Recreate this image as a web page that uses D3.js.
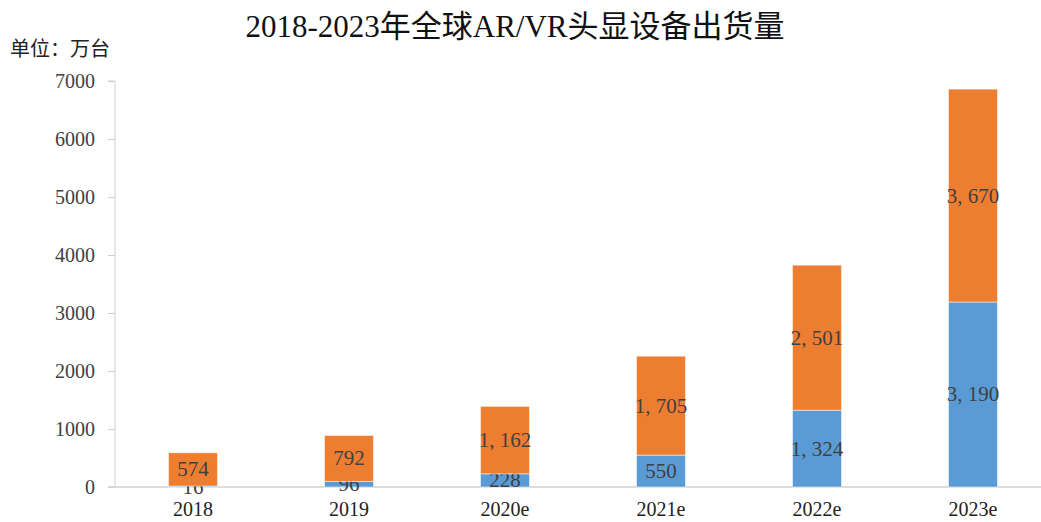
<!DOCTYPE html>
<html>
<head>
<meta charset="utf-8">
<script src="https://cdn.jsdelivr.net/npm/d3@7"></script>
<style>
  body { margin: 0; background: white; }
  text { font-family: "Liberation Serif", "Noto Sans CJK SC", serif; }
</style>
</head>
<body>
<div id="container"></div>
<script>
let years = ["2018", "2019", "2020e", "2021e", "2022e", "2023e"];
let blueValues = [16, 96, 228, 550, 1324, 3190];
let orangeValues = [574, 792, 1162, 1705, 2501, 3670];
let yTicks = [0, 1000, 2000, 3000, 4000, 5000, 6000, 7000];

let title = "2018-2023年全球AR/VR头显设备出货量";
let unit = "单位：万台";

let w = 1041;
let h = 522;

let blue = "#5b9bd5";
let orange = "#ed7d31";
let labelColor = "#404040";

let viz = d3.select("#container")
  .append("svg")
    .attr("width", w)
    .attr("height", h)
    .style("background-color", "white");

let xScale = d3.scaleBand().domain(years).range([115, 1051]).paddingInner(0.686).paddingOuter(0.343);
let yScale = d3.scaleLinear().domain([0, 7000]).range([487, 81]);

// y axis
let yAxis = d3.axisLeft(yScale).tickValues(yTicks).tickSize(7).tickFormat(d3.format("d"));
let yg = viz.append("g").attr("transform", "translate(115,0)").call(yAxis);
yg.select(".domain").attr("stroke", "#d0d0d0").attr("d", "M-7,81H0V487");
yg.selectAll(".tick line").attr("stroke", "#d0d0d0");
yg.selectAll(".tick text")
  .attr("x", -20)
  .attr("fill", labelColor)
  .style("font-size", "20px");

// baseline
viz.append("line")
  .attr("x1", 108).attr("x2", w)
  .attr("y1", yScale(0)).attr("y2", yScale(0))
  .attr("stroke", "#d0d0d0").attr("stroke-width", 1.5);

// stacked bars
let rows = years.map((y, i) => ({year: y, blue: blueValues[i], orange: orangeValues[i]}));
let stack = d3.stack().keys(["blue", "orange"])(rows);
let colors = {blue: blue, orange: orange};
let fmt = v => d3.format(",")(v).replace(/,/g, ", ");

let layers = viz.selectAll(".layer").data(stack).enter()
  .append("g")
    .classed("layer", true)
    .attr("fill", d => colors[d.key]);

layers.selectAll("rect").data(d => d).enter()
  .append("rect")
    .attr("x", d => xScale(d.data.year))
    .attr("width", xScale.bandwidth())
    .attr("y", d => yScale(d[1]))
    .attr("height", d => yScale(d[0]) - yScale(d[1]))
    .attr("stroke", "white")
    .attr("stroke-opacity", 0.5)
    .attr("stroke-width", 1);

layers.selectAll("text").data(d => d.map(s => ({s: s, key: d.key}))).enter()
  .append("text")
    .text(d => fmt(d.s.data[d.key]))
    .attr("x", d => xScale(d.s.data.year) + xScale.bandwidth() / 2)
    .attr("y", d => (yScale(d.s[0]) + yScale(d.s[1])) / 2)
    .attr("text-anchor", "middle")
    .attr("dominant-baseline", "central")
    .attr("fill", labelColor)
    .style("font-size", "21px");

// x labels
viz.selectAll(".xlabel").data(years).enter()
  .append("text")
    .classed("xlabel", true)
    .text(d => d)
    .attr("x", d => xScale(d) + xScale.bandwidth() / 2)
    .attr("y", 509)
    .attr("text-anchor", "middle")
    .attr("dominant-baseline", "central")
    .attr("fill", "#222")
    .style("font-size", "20px");

// title + unit
viz.append("text")
  .text(title)
  .attr("x", 515)
  .attr("y", 26)
  .attr("text-anchor", "middle")
  .attr("dominant-baseline", "central")
  .attr("fill", "#111")
  .style("font-size", "31px");

viz.append("text")
  .text(unit)
  .attr("x", 10)
  .attr("y", 49)
  .attr("dominant-baseline", "central")
  .attr("fill", "#222")
  .style("font-size", "20px");
</script>
</body>
</html>
